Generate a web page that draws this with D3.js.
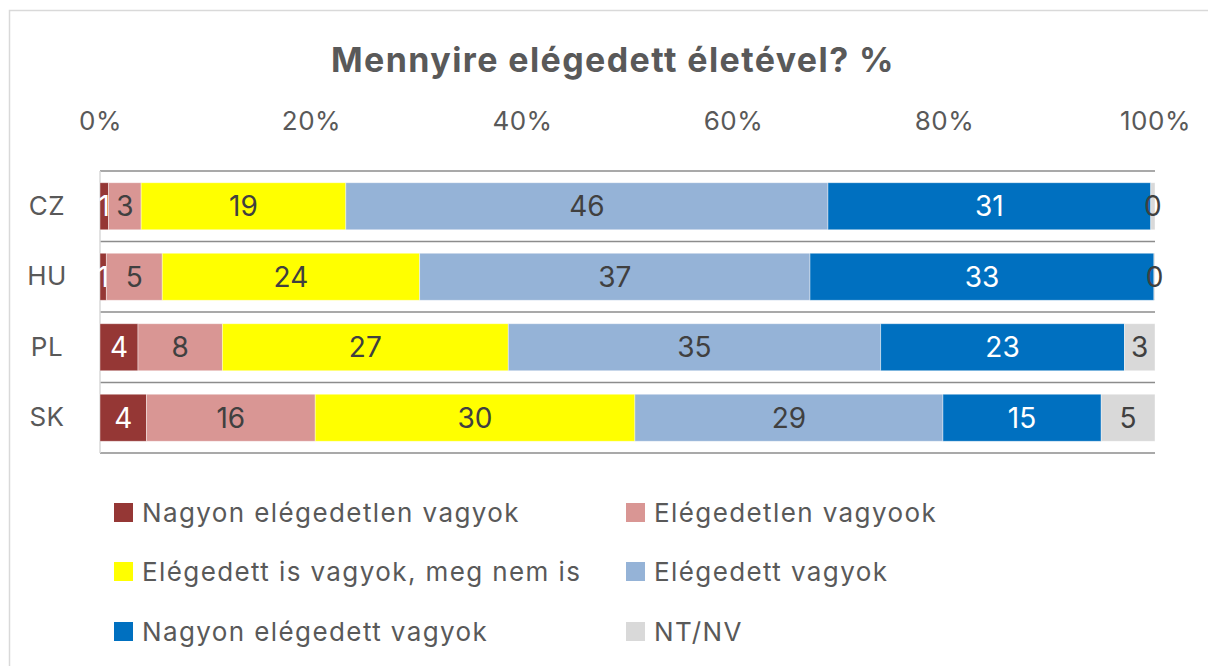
<!DOCTYPE html>
<html>
<head>
<meta charset="utf-8">
<script src="https://cdn.jsdelivr.net/npm/d3@7"></script>
<style>
  body { margin: 0; background: #fff; }
  svg { display: block; font-family: Inter, "Open Sans", sans-serif; }
</style>
</head>
<body>
<svg width="1208" height="666"></svg>
<script>
const svg = d3.select('svg');
const width = +svg.attr('width');
const height = +svg.attr('height');

// data (percent of respondents)
const countries = ['CZ', 'HU', 'PL', 'SK'];
const seriesNames = [
  'Nagyon elégedetlen vagyok',
  'Elégedetlen vagyook',
  'Elégedett is vagyok, meg nem is',
  'Elégedett vagyok',
  'Nagyon elégedett vagyok',
  'NT/NV'
];
const veryUnsatisfied = [0.8, 0.6, 3.6, 4.4];
const unsatisfied     = [3.1, 5.3, 8.0, 16.0];
const neither         = [19.4, 24.4, 27.1, 30.3];
const satisfied       = [45.7, 37.0, 35.3, 29.2];
const verySatisfied   = [30.6, 32.6, 23.1, 15.0];
const noAnswer        = [0.4, 0.1, 2.9, 5.1];
const tickValues = [0, 0.2, 0.4, 0.6, 0.8, 1];

const colors = ['#953735', '#d99694', '#ffff00', '#95b3d7', '#0070c0', '#d9d9d9'];
const labelColors = ['#ffffff', '#404040', '#404040', '#404040', '#ffffff', '#404040'];
const title = 'Mennyire elégedett életével? %';

const seriesValues = [veryUnsatisfied, unsatisfied, neither, satisfied, verySatisfied, noAnswer];
const keys = d3.range(seriesNames.length).map(String);
const rows = countries.map((c, i) => {
  const row = {country: c};
  seriesValues.forEach((vals, k) => row[k] = vals[i]);
  return row;
});

const stacked = d3.stack().keys(keys).offset(d3.stackOffsetExpand)(rows);

const margin = {top: 171, left: 100, right: 53, bottom: 213};
const innerWidth = width - margin.left - margin.right;
const innerHeight = height - margin.top - margin.bottom;

// outer frame (only top and left edges are inside the picture)
svg.append('path')
  .attr('d', `M${width},10.5H9.5V${height}`)
  .attr('fill', 'none')
  .attr('stroke', '#d9d9d9')
  .attr('stroke-width', 1.5);

svg.append('text')
  .attr('x', 613)
  .attr('y', 72)
  .attr('text-anchor', 'middle')
  .attr('fill', '#595959')
  .attr('font-size', 34)
  .attr('font-weight', 700)
  .attr('letter-spacing', 1.4)
  .text(title);

const xScale = d3.scaleLinear().domain([0, 1]).range([0, innerWidth]);
const yScale = d3.scaleBand().domain(countries).range([0, innerHeight])
  .paddingInner(0.333)
  .paddingOuter(0.1667);

const g = svg.append('g')
  .attr('transform', `translate(${margin.left}, ${margin.top})`);

// x axis on top (labels only)
const xAxis = d3.axisTop(xScale)
  .tickValues(tickValues)
  .tickFormat(d3.format('.0%'))
  .tickSize(0)
  .tickPadding(0);
const xAxisG = g.append('g')
  .attr('transform', 'translate(0, -41)')
  .call(xAxis);
xAxisG.select('.domain').remove();
xAxisG.selectAll('text')
  .attr('font-size', 26)
  .attr('font-family', 'Inter, sans-serif')
  .attr('letter-spacing', 0.5)
  .attr('fill', '#595959');

// category separators
g.selectAll('.sep').data(d3.range(countries.length + 1))
  .enter().append('line')
    .attr('class', 'sep')
    .attr('x1', 0).attr('x2', innerWidth)
    .attr('y1', i => i * yScale.step())
    .attr('y2', i => i * yScale.step())
    .attr('stroke', '#8c8c8c')
    .attr('stroke-width', 1.5);

// left axis line
g.append('line')
  .attr('x1', 0).attr('x2', 0)
  .attr('y1', 0).attr('y2', innerHeight)
  .attr('stroke', '#d9d9d9')
  .attr('stroke-width', 1.5);

// country labels
const yAxis = d3.axisLeft(yScale).tickSize(0).tickPadding(0);
const yAxisG = g.append('g').call(yAxis);
yAxisG.select('.domain').remove();
yAxisG.selectAll('text')
  .attr('x', -53)
  .attr('text-anchor', 'middle')
  .attr('font-size', 26)
  .attr('font-family', 'Inter, sans-serif')
  .attr('letter-spacing', 0.5)
  .attr('fill', '#595959');

const layers = g.selectAll('.layer').data(stacked)
  .enter().append('g')
    .attr('class', 'layer')
    .attr('fill', (d, i) => colors[i]);

layers.selectAll('rect').data(d => d)
  .enter().append('rect')
    .attr('x', d => xScale(d[0]))
    .attr('y', d => yScale(d.data.country))
    .attr('width', d => xScale(d[1]) - xScale(d[0]))
    .attr('height', yScale.bandwidth())
    .attr('stroke', '#ffffff')
    .attr('stroke-opacity', 0.5)
    .attr('stroke-width', 0.8);

layers.selectAll('text').data((d, i) => d.map(p => ({p, i})))
  .enter().append('text')
    .attr('x', ({p}) => (xScale(p[0]) + xScale(p[1])) / 2)
    .attr('y', ({p}) => yScale(p.data.country) + yScale.bandwidth() / 2)
    .attr('dy', '0.36em')
    .attr('text-anchor', 'middle')
    .attr('font-size', 28)
    .attr('fill', ({i}) => labelColors[i])
    .text(({p, i}) => d3.format('.0f')(p.data[i]));

// legend
const legendX = [114, 626];
const legendY = [503, 562, 622];
const legend = svg.append('g');
const items = legend.selectAll('g').data(seriesNames)
  .enter().append('g')
    .attr('transform', (d, i) => `translate(${legendX[i % 2]}, ${legendY[Math.floor(i / 2)]})`);
items.append('rect')
  .attr('width', 19).attr('height', 19)
  .attr('fill', (d, i) => colors[i]);
items.append('text')
  .attr('x', 28)
  .attr('y', 19)
  .attr('font-size', 26)
  .attr('letter-spacing', 1.4)
  .attr('fill', '#595959')
  .text(d => d);
</script>
</body>
</html>
